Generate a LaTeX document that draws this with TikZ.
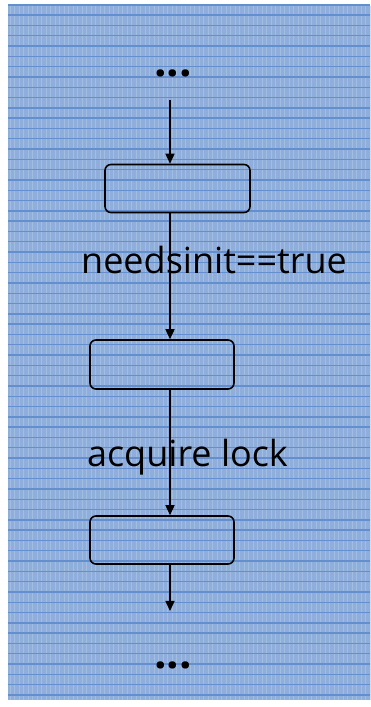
\documentclass[tikz,border=0pt]{standalone}
\usepackage{fontspec}
\setmainfont{Open Sans}
\usepackage{tikz}
\usetikzlibrary{positioning,calc,arrows.meta}

\definecolor{paper}{RGB}{143,174,219}
\definecolor{rule}{RGB}{100,143,207}
\definecolor{fleck}{RGB}{176,199,232}

\begin{document}
\begin{tikzpicture}[
x=1pt,y=1pt,
stepbox/.style={
draw,
line width=1.6pt,
rounded corners=6pt,
minimum width=144pt,
minimum height=48pt,
inner sep=0pt
},
cond/.style={
font=\fontsize{36}{40}\selectfont,
inner sep=0pt,
anchor=base
},
more/.style={
font=\fontsize{44}{46}\selectfont\bfseries,
inner sep=0pt
},
arrow/.style={
-{Triangle[length=10pt,width=9pt]},
line width=1.6pt
}
]

\useasboundingbox (0,0) rectangle (370,707);

% Background

\fill[paper] (8,7) rectangle (370,701);
\foreach \i in {0,...,80}{
\draw[fleck, line width=0.8pt, opacity=0.6] ({10+4.5*\i},7) -- ({10+4.5*\i},701);
}
\foreach \j in {0,...,67}{
\draw[rule, line width=1.4pt] (8,{12+10.3*\j}) -- (370,{12+10.3*\j});
}


% Ends of the flow

\node (topdots) [more] at (173,634) {...};
\coordinate (start) at (170,607);
\coordinate (stop) at (170,96);
\node (botdots) [more] at (173,42) {...};


% Steps

\node (first) [stepbox, minimum width=145pt] at (177.5,518.5) {};
\node (second) [stepbox, minimum height=49pt] at (162,342.5) {};
\node (third) [stepbox] at (162,167) {};


% Conditions

\node (init) [cond] at (214,433) {needsinit==true};
\node (lock) [cond] at (187.5,240) {acquire lock};


\draw[arrow] (start) -- (start |- first.north);
\draw[arrow] (start |- first.south) -- (start |- second.north);
\draw[arrow] (start |- second.south) -- (start |- third.north);
\draw[arrow] (start |- third.south) -- (stop);


\end{tikzpicture}
\end{document}
